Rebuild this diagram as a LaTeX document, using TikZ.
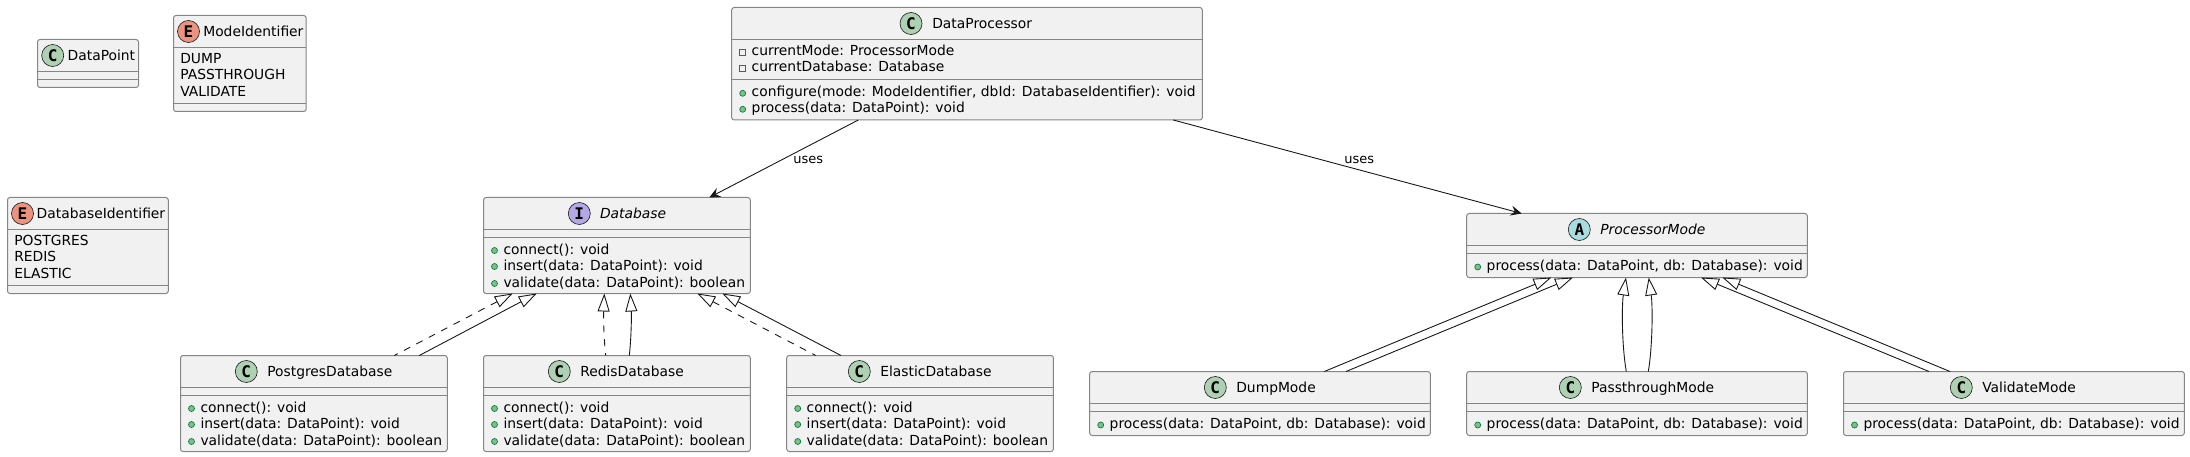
\documentclass[tikz,border=0pt]{standalone}
\usepackage{fontspec}
\setmainfont{DejaVu Sans}
\newfontfamily\lettermono{DejaVu Sans Mono}
\usetikzlibrary{arrows.meta,calc}
\definecolor{umlline}{HTML}{181818}
\definecolor{umlgrey}{HTML}{858585}
\definecolor{umlbg}{HTML}{F1F1F1}
\definecolor{cgreen}{HTML}{ADD1B2}
\definecolor{cblue}{HTML}{A9DCDF}
\definecolor{cpurple}{HTML}{B4A7E5}
\definecolor{cred}{HTML}{EB937F}
\definecolor{pubfill}{HTML}{84BE84}
\definecolor{publine}{HTML}{038048}
\definecolor{privline}{HTML}{C82930}
\tikzset{
  x=1pt,y=-1pt,
  umlboxstyle/.style={draw=umlgrey,fill=umlbg,line width=1pt,rounded corners=2.5pt,inner sep=0pt,outer sep=0pt,rectangle,anchor=north west},
  sepline/.style={draw=umlgrey,line width=1pt},
  badge/.style={circle,draw=umlline,line width=.6pt,minimum size=22pt,inner sep=0pt,font=\lettermono\bfseries\fontsize{16}{16}\selectfont,text=black},
  umlname/.style={anchor=base west,inner sep=0pt,outer sep=0pt,font=\fontsize{13.85}{14}\selectfont,text=black},
  umlmember/.style={anchor=base west,inner sep=0pt,outer sep=0pt,font=\fontsize{13.85}{14}\selectfont,text=black},
  edgelabel/.style={anchor=base west,inner sep=0pt,outer sep=0pt,font=\fontsize{13}{13}\selectfont,text=black},
  pubicon/.style={fill=pubfill,draw=publine,line width=.7pt},
  privicon/.style={draw=privline,line width=.8pt},
  uses/.style={draw=umlline,line width=.9pt,-{Stealth[length=11pt,width=10pt,inset=4pt]}},
  inherit/.style={draw=umlline,line width=.9pt,{Triangle[open,length=18pt,width=12pt]}-},
  realize/.style={inherit,dash pattern=on 7pt off 7pt}
}
% name, left, top, right, bottom, first and second rule below top
\newcommand{\umlbox}[7]{%
  \pgfmathsetmacro{\umlw}{#4-#2}\pgfmathsetmacro{\umlh}{#5-#3}%
  \node[umlboxstyle,minimum width=\umlw pt,minimum height=\umlh pt] (#1) at (#2,#3) {};
  \draw[sepline] ([yshift=-#6pt]#1.north west) -- ([yshift=-#6pt]#1.north east);
  \draw[sepline] ([yshift=-#7pt]#1.north west) -- ([yshift=-#7pt]#1.north east);
}
% name, colour, letter, badge x, text x, top, text style, title
\newcommand{\umlhead}[8]{%
  \pgfmathsetmacro{\umlcy}{#6+16}\pgfmathsetmacro{\umlby}{#6+21}%
  \node[badge,fill=#2] (#1-badge) at (#4,\umlcy) {#3};
  \node[umlname] (#1-title) at (#5,\umlby) {#7#8};
}
% name suffix, x of box left, baseline y, icon y, text
\newcommand{\pubm}[5]{%
  \pgfmathsetmacro{\umlix}{#2+11}\pgfmathsetmacro{\umltx}{#2+20}%
  \draw[pubicon] (\umlix,#4) circle[radius=3pt];
  \node[umlmember] (#1) at (\umltx,#3) {#5};
}
\newcommand{\privm}[5]{%
  \pgfmathsetmacro{\umlix}{#2+11}\pgfmathsetmacro{\umltx}{#2+20}%
  \draw[privicon] (\umlix-3,#4-3) rectangle (\umlix+3,#4+3);
  \node[umlmember] (#1) at (\umltx,#3) {#5};
}
% three database methods: name, left, top
\newcommand{\dbmembers}[3]{%
  \pgfmathsetmacro{\ya}{#3+57}\pgfmathsetmacro{\yb}{#3+73}\pgfmathsetmacro{\yc}{#3+90}%
  \pgfmathsetmacro{\ia}{#3+53}\pgfmathsetmacro{\ib}{#3+69}\pgfmathsetmacro{\ic}{#3+86}%
  \pubm{#1-m1}{#2}{\ya}{\ia}{connect(): void}
  \pubm{#1-m2}{#2}{\yb}{\ib}{insert(data: DataPoint): void}
  \pubm{#1-m3}{#2}{\yc}{\ic}{validate(data: DataPoint): boolean}
}
\newcommand{\modemember}[3]{%
  \pgfmathsetmacro{\ya}{#3+57}\pgfmathsetmacro{\ia}{#3+53.5}%
  \pubm{#1-m1}{#2}{\ya}{\ia}{process(data: DataPoint, db: Database): void}
}
% enum values: name, left, top, three values
\newcommand{\enumvals}[6]{%
  \pgfmathsetmacro{\ex}{#2+6.8}\pgfmathsetmacro{\ya}{#3+48.3}\pgfmathsetmacro{\yb}{#3+64.3}\pgfmathsetmacro{\yc}{#3+81}%
  \node[umlmember] (#1-v1) at (\ex,\ya) {#4};
  \node[umlmember] (#1-v2) at (\ex,\yb) {#5};
  \node[umlmember] (#1-v3) at (\ex,\yc) {#6};
}
\begin{document}
\begin{tikzpicture}
\useasboundingbox (0,0) rectangle (2190,457);

% DataPoint
\umlbox{dp}{37.5}{39.5}{138.5}{87.5}{32}{40}
\umlhead{dp}{cgreen}{C}{52.7}{67.7}{39.5}{}{DataPoint}

% ModeIdentifier
\umlbox{mi}{173.5}{15.5}{306.2}{111.5}{32}{88}
\umlhead{mi}{cred}{E}{188.5}{203.3}{15.5}{}{ModeIdentifier}
\enumvals{mi}{173.5}{15.5}{DUMP}{PASSTHROUGH}{VALIDATE}

% DatabaseIdentifier
\umlbox{di}{7.5}{197.5}{168.3}{293.5}{32}{88}
\umlhead{di}{cred}{E}{22.5}{36.7}{197.5}{}{DatabaseIdentifier}
\enumvals{di}{7.5}{197.5}{POSTGRES}{REDIS}{ELASTIC}

% DataProcessor
\umlbox{proc}{731.7}{7.5}{1202.3}{120}{32}{72}
\umlhead{proc}{cgreen}{C}{911}{932.3}{7.5}{}{DataProcessor}
\privm{proc-a1}{731.7}{55.8}{52.3}{currentMode: ProcessorMode}
\privm{proc-a2}{731.7}{71.8}{68.3}{currentDatabase: Database}
\pubm{proc-m1}{731.7}{96.8}{93.3}{configure(mode: ModeIdentifier, dbId: DatabaseIdentifier): void}
\pubm{proc-m2}{731.7}{112.8}{109.3}{process(data: DataPoint): void}

% Database
\umlbox{db}{483.5}{197.5}{750.3}{293.5}{32}{40}
\umlhead{db}{cpurple}{I}{579.3}{600}{197.5}{\itshape}{Database}
\dbmembers{db}{483.5}{197.5}

% Database implementations
\umlbox{pg}{180.5}{355.5}{447.3}{451.5}{32}{40}
\umlhead{pg}{cgreen}{C}{246.3}{267.3}{355.5}{}{PostgresDatabase}
\dbmembers{pg}{180.5}{355.5}

\umlbox{rd}{483.5}{355.5}{750.3}{451.5}{32}{40}
\umlhead{rd}{cgreen}{C}{559.3}{580.3}{355.5}{}{RedisDatabase}
\dbmembers{rd}{483.5}{355.5}

\umlbox{el}{786.7}{355.5}{1053.4}{451.5}{32}{40}
\umlhead{el}{cgreen}{C}{859.3}{880.3}{355.5}{}{ElasticDatabase}
\dbmembers{el}{786.7}{355.5}

% ProcessorMode
\umlbox{pm}{1466.7}{213.5}{1807.3}{277.5}{32}{40}
\umlhead{pm}{cblue}{A}{1579.3}{1600.3}{213.5}{\itshape}{ProcessorMode}
\modemember{pm}{1466.7}{213.5}

% Modes
\umlbox{dm}{1089.7}{371.5}{1430.3}{435.5}{32}{40}
\umlhead{dm}{cgreen}{C}{1215.3}{1236.3}{371.5}{}{DumpMode}
\modemember{dm}{1089.7}{371.5}

\umlbox{pt}{1466.7}{371.5}{1807.3}{435.5}{32}{40}
\umlhead{pt}{cgreen}{C}{1570.3}{1591.3}{371.5}{}{PassthroughMode}
\modemember{pt}{1466.7}{371.5}

\umlbox{vm}{1843.5}{371.5}{2184.3}{435.5}{32}{40}
\umlhead{vm}{cgreen}{C}{1961.3}{1982.3}{371.5}{}{ValidateMode}
\modemember{vm}{1843.5}{371.5}

% uses
\draw[uses] ([xshift=126.6pt]proc.south west) -- ([xshift=225.8pt]db.north west);
\draw[uses] ([xshift=441.6pt]proc.south west) -- ([xshift=55pt]pm.north west);
\node[edgelabel] (uses1) at (793.3,163.6) {uses};
\node[edgelabel] (uses2) at (1344.3,163.6) {uses};

% Database realisations and extensions
\draw[realize] ([xshift=29.2pt]db.south west) -- ([xshift=213.8pt]pg.north west);
\draw[inherit] ([xshift=53.2pt]db.south west) -- ([xshift=238.8pt]pg.north west);
\draw[realize] ([xshift=120.8pt]db.south west) .. controls ([xshift=120pt,yshift=-20pt]db.south west) and ([xshift=120pt,yshift=20pt]rd.north west) .. ([xshift=122.2pt]rd.north west);
\draw[inherit] ([xshift=146.8pt]db.south west) .. controls ([xshift=148pt,yshift=-20pt]db.south west) and ([xshift=148pt,yshift=20pt]rd.north west) .. ([xshift=145.8pt]rd.north west);
\draw[realize] ([xshift=213.8pt]db.south west) -- ([xshift=29pt]el.north west);
\draw[inherit] ([xshift=238.8pt]db.south west) -- ([xshift=54.3pt]el.north west);

% Mode extensions
\draw[inherit] ([xshift=84.7pt]pm.south west) -- ([xshift=234.6pt]dm.north west);
\draw[inherit] ([xshift=106.3pt]pm.south west) -- ([xshift=256.3pt]dm.north west);
\draw[inherit] ([xshift=159.3pt]pm.south west) .. controls ([xshift=155pt,yshift=-28pt]pm.south west) and ([xshift=155pt,yshift=26pt]pt.north west) .. ([xshift=159.6pt]pt.north west);
\draw[inherit] ([xshift=182pt]pm.south west) .. controls ([xshift=186pt,yshift=-28pt]pm.south west) and ([xshift=186pt,yshift=26pt]pt.north west) .. ([xshift=181.6pt]pt.north west);
\draw[inherit] ([xshift=234.3pt]pm.south west) -- ([xshift=85.5pt]vm.north west);
\draw[inherit] ([xshift=255.6pt]pm.south west) -- ([xshift=106.5pt]vm.north west);
\end{tikzpicture}
\end{document}
